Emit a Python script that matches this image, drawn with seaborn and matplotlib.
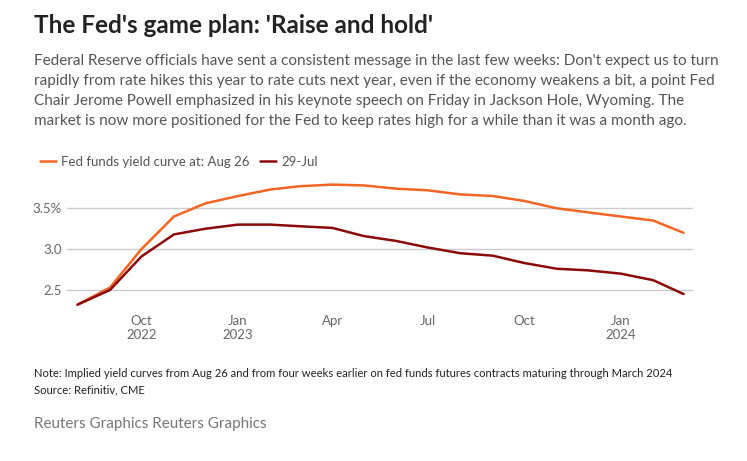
import matplotlib
matplotlib.use("Agg")
import matplotlib.pyplot as plt
import pandas as pd
import seaborn as sns

# monthly contract dates, Aug 2022 - Mar 2024
months = pd.date_range("2022-08-01", "2024-03-01", freq="MS")

# implied fed funds rate (%)
aug26 = [2.32, 2.53, 3.00, 3.40, 3.56, 3.65, 3.73, 3.77, 3.79, 3.78,
         3.74, 3.72, 3.67, 3.65, 3.59, 3.50, 3.45, 3.40, 3.35, 3.20]
jul29 = [2.32, 2.50, 2.91, 3.18, 3.25, 3.30, 3.30, 3.28, 3.26, 3.16,
         3.10, 3.02, 2.95, 2.92, 2.83, 2.76, 2.74, 2.70, 2.62, 2.45]

series_names = ["Fed funds yield curve at: Aug 26", "29-Jul"]
series_colors = ["#f26522", "#8b0a0a"]

yticks = [2.5, 3.0, 3.5]
ytick_labels = ["2.5", "3.0", "3.5%"]
xtick_dates = pd.to_datetime(["2022-10-01", "2023-01-01", "2023-04-01",
                              "2023-07-01", "2023-10-01", "2024-01-01"])
xtick_labels = ["Oct\n2022", "Jan\n2023", "Apr", "Jul", "Oct", "Jan\n2024"]

title = "The Fed's game plan: 'Raise and hold'"
subtitle = ("Federal Reserve officials have sent a consistent message in the last few weeks: Don't expect us to turn\n"
            "rapidly from rate hikes this year to rate cuts next year, even if the economy weakens a bit, a point Fed\n"
            "Chair Jerome Powell emphasized in his keynote speech on Friday in Jackson Hole, Wyoming. The\n"
            "market is now more positioned for the Fed to keep rates high for a while than it was a month ago.")
note = ("Note: Implied yield curves from Aug 26 and from four weeks earlier on fed funds futures contracts maturing through March 2024\n"
        "Source: Refinitiv, CME")
credit = "Reuters Graphics Reuters Graphics"

df = pd.concat([
    pd.DataFrame({"date": months, "rate": aug26, "series": series_names[0]}),
    pd.DataFrame({"date": months, "rate": jul29, "series": series_names[1]}),
])

sns.set_theme(style="white")
plt.rcParams["font.family"] = ["Lato", "DejaVu Sans"]

W, H = 747, 461
fig = plt.figure(figsize=(W / 100, H / 100), dpi=100)
ax = fig.add_axes([67 / W, 1 - 306.3 / H, 626 / W, 126.6 / H])

sns.lineplot(data=df, x="date", y="rate", hue="series", hue_order=series_names,
             palette=series_colors, linewidth=1.8, ax=ax, legend=True)

ax.set_xlim(pd.Timestamp("2022-07-22"), pd.Timestamp("2024-03-10"))
ax.set_ylim(2.3, 3.85)
ax.set_yticks(yticks)
ax.set_yticklabels(ytick_labels)
ax.set_xticks(xtick_dates)
ax.set_xticklabels(xtick_labels)
ax.yaxis.grid(True, color="#cccccc", linewidth=1)
ax.set_axisbelow(True)
for s in ax.spines.values():
    s.set_visible(False)
ax.tick_params(axis="both", length=0, labelsize=9.5, labelcolor="#666666")
ax.tick_params(axis="y", pad=4)
ax.tick_params(axis="x", pad=6)
ax.set_xlabel("")
ax.set_ylabel("")

handles, labels = ax.get_legend_handles_labels()
ax.legend(handles, labels, ncol=2, frameon=False, loc="center left",
          bbox_to_anchor=(28 / W, 1 - 162 / H), bbox_transform=fig.transFigure,
          fontsize=9.5, handlelength=1.2, handletextpad=0.4, columnspacing=0.8,
          labelcolor="#555555")

fig.text(34 / W, 1 - 33 / H, title, fontsize=17.5, fontweight="bold",
         color="#222222", va="baseline", ha="left")
fig.text(34 / W, 1 - 54 / H, subtitle, fontsize=11, color="#555555",
         va="top", ha="left", linespacing=1.56)
fig.text(34 / W, 1 - 368 / H, note, fontsize=8.1, color="#222222",
         va="top", ha="left", linespacing=1.6)
fig.text(34 / W, 1 - 424 / H, credit, fontsize=10.9, color="#777777",
         va="center", ha="left")

fig.savefig("out.png", dpi=100, facecolor="white")
